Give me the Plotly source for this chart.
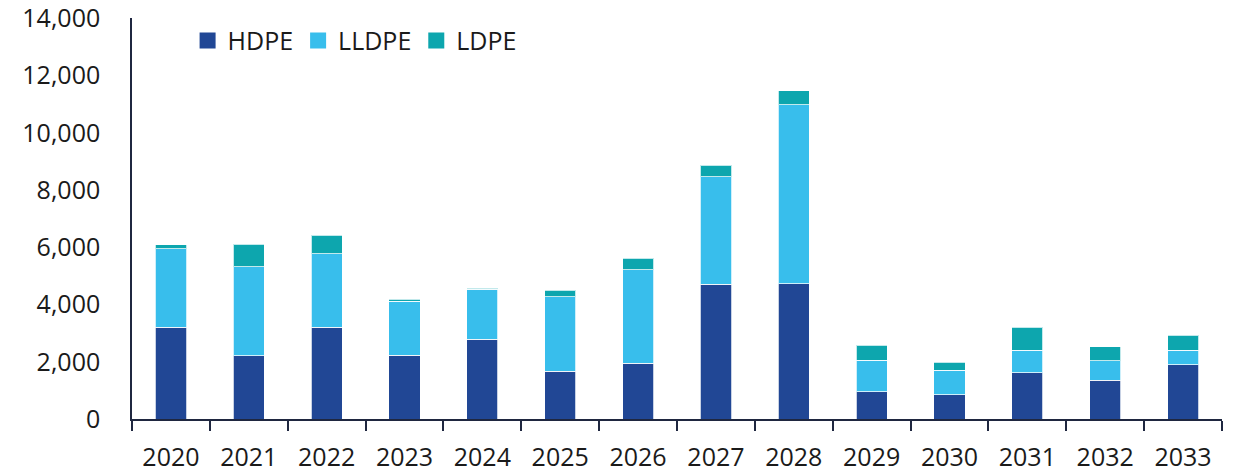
import plotly.graph_objects as go

# Annual polyethylene capacity additions by grade
years = ["2020", "2021", "2022", "2023", "2024", "2025", "2026",
         "2027", "2028", "2029", "2030", "2031", "2032", "2033"]
hdpe = [3200, 2210, 3210, 2220, 2780, 1670, 1950, 4710, 4730, 960, 850, 1620, 1350, 1900]
lldpe = [2750, 3110, 2570, 1890, 1750, 2610, 3260, 3750, 6250, 1100, 850, 790, 680, 510]
ldpe = [130, 790, 640, 70, 30, 210, 400, 410, 480, 520, 290, 790, 490, 510]
y_ticks = [0, 2000, 4000, 6000, 8000, 10000, 12000, 14000]

series = [("HDPE", hdpe, "#214795"), ("LLDPE", lldpe, "#38BEEC"), ("LDPE", ldpe, "#0DA6AE")]

FONT = "Open Sans"
AXIS = "#1f2740"

fig = go.Figure()
for name, vals, col in series:
    fig.add_trace(go.Bar(
        x=years, y=vals, name=name, showlegend=False,
        marker=dict(color=col, line=dict(color="rgba(255,255,255,0.75)", width=1)),
    ))
    # square legend swatch
    fig.add_trace(go.Scatter(
        x=[None], y=[None], mode="markers", name=name,
        marker=dict(symbol="square", size=16, color=col),
    ))

fig.update_layout(
    width=1233, height=475,
    margin=dict(l=132, r=11, t=18, b=56),
    barmode="stack", bargap=0.6,
    plot_bgcolor="white", paper_bgcolor="white",
    font=dict(family=FONT, size=25, color="#1a1a1a"),
    legend=dict(orientation="h", traceorder="normal", x=0.051, xanchor="left",
                y=0.943, yanchor="middle", font=dict(size=25),
                bgcolor="rgba(0,0,0,0)", itemclick=False),
    xaxis=dict(showline=True, linecolor=AXIS, linewidth=1.5, ticks="outside",
               tickson="boundaries", ticklen=10, tickcolor=AXIS, tickwidth=1.5,
               ticklabelstandoff=15, showgrid=False, automargin=False),
    yaxis=dict(range=[0, 14010], tickvals=y_ticks,
               tickformat=",d", showline=True, linecolor=AXIS, linewidth=1.5,
               ticks="", showgrid=False, zeroline=False, ticklabelstandoff=25,
               automargin=False),
)

fig.write_html("out.html")
